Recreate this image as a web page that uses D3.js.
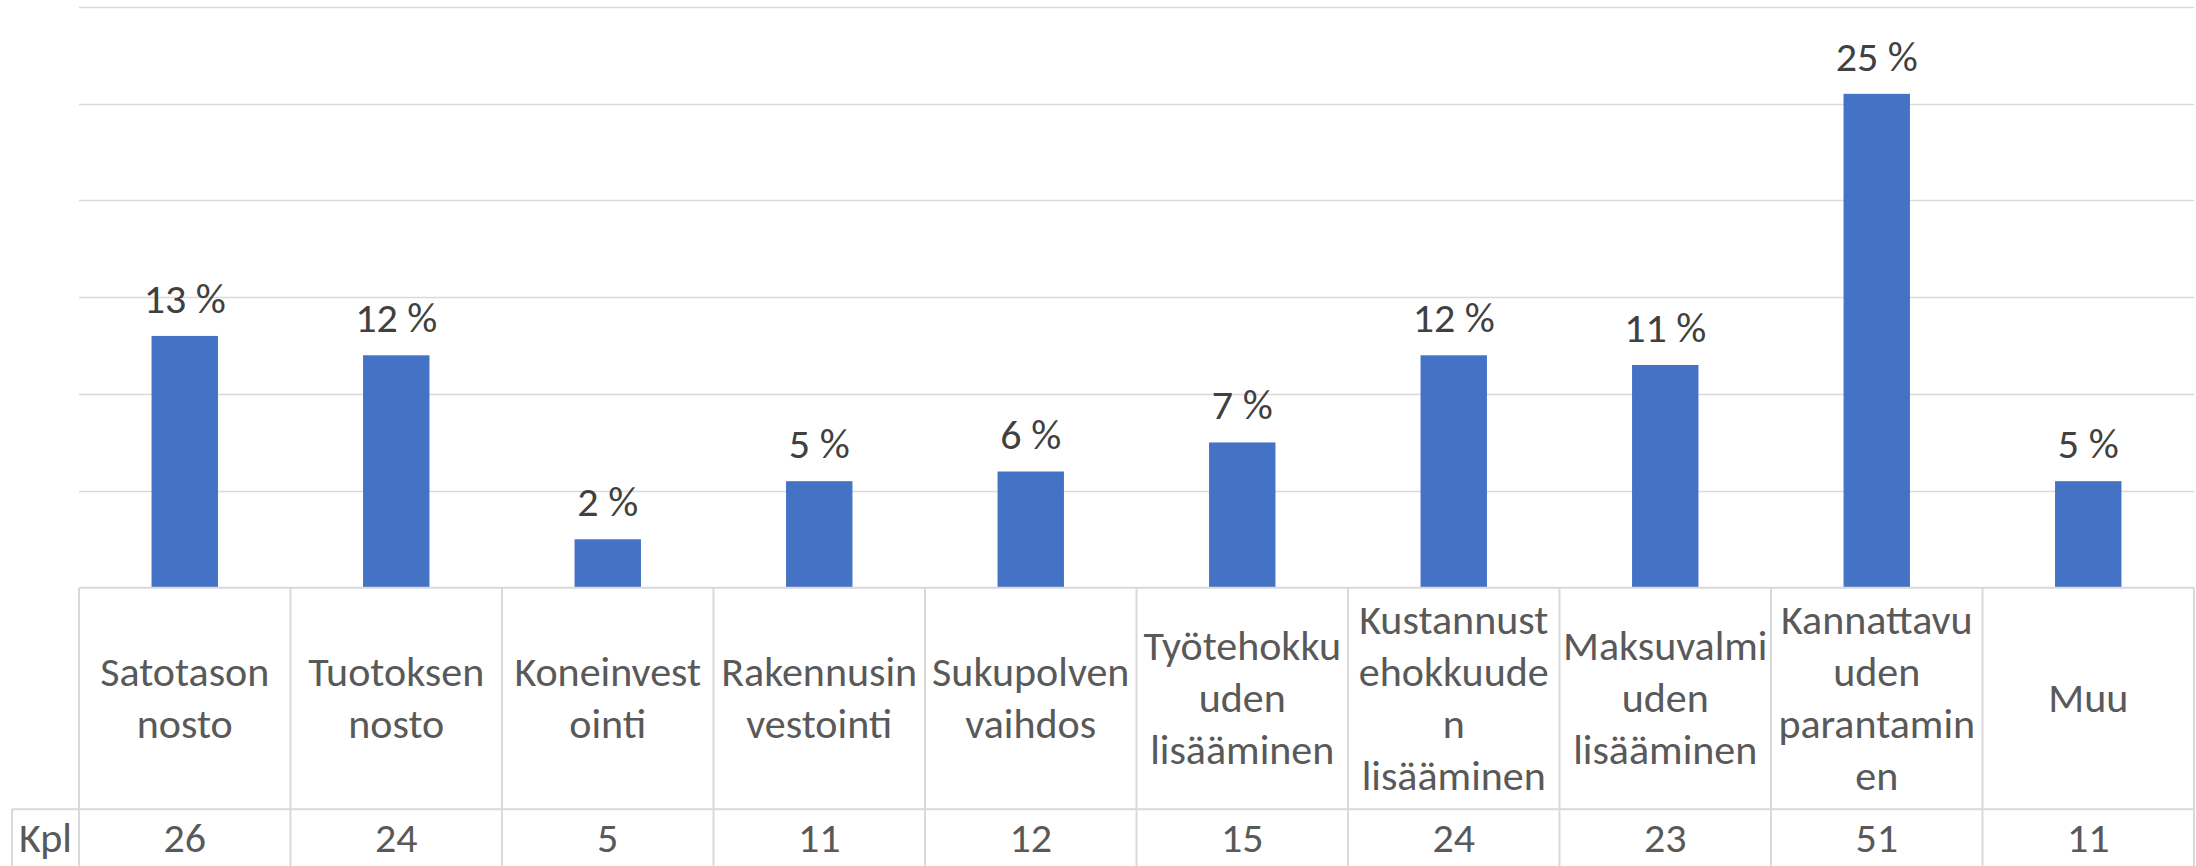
<!DOCTYPE html>
<html><head><meta charset="utf-8">
<script src="https://cdn.jsdelivr.net/npm/d3@7"></script>
<style>
html,body{margin:0;padding:0;background:#fff;}
svg{display:block;}
</style></head>
<body>
<svg id="chart" width="2196" height="866"></svg>
<script>
// ---- data ----
const categories = [
  ["Satotason","nosto"],
  ["Tuotoksen","nosto"],
  ["Koneinvest","ointi"],
  ["Rakennusin","vestointi"],
  ["Sukupolven","vaihdos"],
  ["Työtehokku","uden","lisääminen"],
  ["Kustannust","ehokkuude","n","lisääminen"],
  ["Maksuvalmi","uden","lisääminen"],
  ["Kannattavu","uden","parantamin","en"],
  ["Muu"]
];
const percentValues = [13, 12, 2.5, 5.5, 6, 7.5, 12, 11.5, 25.5, 5.5];
const percentLabels = ["13 %","12 %","2 %","5 %","6 %","7 %","12 %","11 %","25 %","5 %"];
const counts = [26, 24, 5, 11, 12, 15, 24, 23, 51, 11];
const rowLabel = "Kpl";
const yTicks = [0, 5, 10, 15, 20, 25, 30];

// ---- layout ----
(function(){
const svg = d3.select("#chart");
const L = 79, R = 2194, T = 6.7, axisY = 587.7, rowSep = 809.3, B = 866;
const font = "Carlito, Calibri, 'Open Sans', sans-serif";
const grid = "#d9d9d9";
const fs = 42;

const x = d3.scaleBand().domain(d3.range(categories.length)).range([L, R]).padding(0);
const y = d3.scaleLinear().domain([0, 30]).range([axisY, T]);
const barW = x.bandwidth() * 0.314;

// gridlines
svg.append("g").selectAll("line").data(yTicks.filter(d => d > 0)).join("line")
  .attr("x1", L).attr("x2", R)
  .attr("y1", d => Math.round(y(d)) + 0.5).attr("y2", d => Math.round(y(d)) + 0.5)
  .attr("stroke", grid).attr("stroke-width", 1.5);

// bars
svg.append("g").selectAll("rect").data(percentValues).join("rect")
  .attr("x", (d, i) => x(i) + (x.bandwidth() - barW) / 2)
  .attr("width", barW)
  .attr("y", d => y(d))
  .attr("height", d => y(0) - y(d))
  .attr("fill", "#4472c4");

// value labels
svg.append("g").selectAll("text").data(percentValues).join("text")
  .attr("x", (d, i) => x(i) + x.bandwidth() / 2)
  .attr("y", d => y(d) - 23)
  .attr("text-anchor", "middle")
  .attr("font-family", font).attr("font-size", fs)
  .attr("fill", "#404040")
  .text((d, i) => percentLabels[i]);

// data table lines
const t = svg.append("g").attr("stroke", grid).attr("stroke-width", 2);
t.append("line").attr("x1", L).attr("x2", R).attr("y1", axisY).attr("y2", axisY);
t.append("line").attr("x1", 12).attr("x2", R).attr("y1", rowSep).attr("y2", rowSep);
t.append("line").attr("x1", 12).attr("x2", 12).attr("y1", rowSep).attr("y2", B);
t.selectAll("line.v").data(d3.range(categories.length + 1)).join("line").attr("class", "v")
  .attr("x1", i => i < categories.length ? x(i) : R)
  .attr("x2", i => i < categories.length ? x(i) : R)
  .attr("y1", axisY).attr("y2", B);

// category labels
const lineH = 52, midBase = 712;
const cat = svg.append("g").selectAll("text").data(categories).join("text")
  .attr("text-anchor", "middle")
  .attr("font-family", font).attr("font-size", fs)
  .attr("fill", "#595959");
cat.each(function(lines, i) {
  const el = d3.select(this);
  lines.forEach((ln, j) => {
    el.append("tspan")
      .attr("x", x(i) + x.bandwidth() / 2)
      .attr("y", midBase + (j - (lines.length - 1) / 2) * lineH)
      .text(ln);
  });
});

// count row
svg.append("text").attr("x", 45.5).attr("y", 851.7).attr("text-anchor", "middle")
  .attr("font-family", font).attr("font-size", fs).attr("fill", "#595959").text(rowLabel);
svg.append("g").selectAll("text").data(counts).join("text")
  .attr("x", (d, i) => x(i) + x.bandwidth() / 2)
  .attr("y", 851.7)
  .attr("text-anchor", "middle")
  .attr("font-family", font).attr("font-size", fs)
  .attr("fill", "#595959")
  .text(d => d);
})();
</script>
</body></html>
